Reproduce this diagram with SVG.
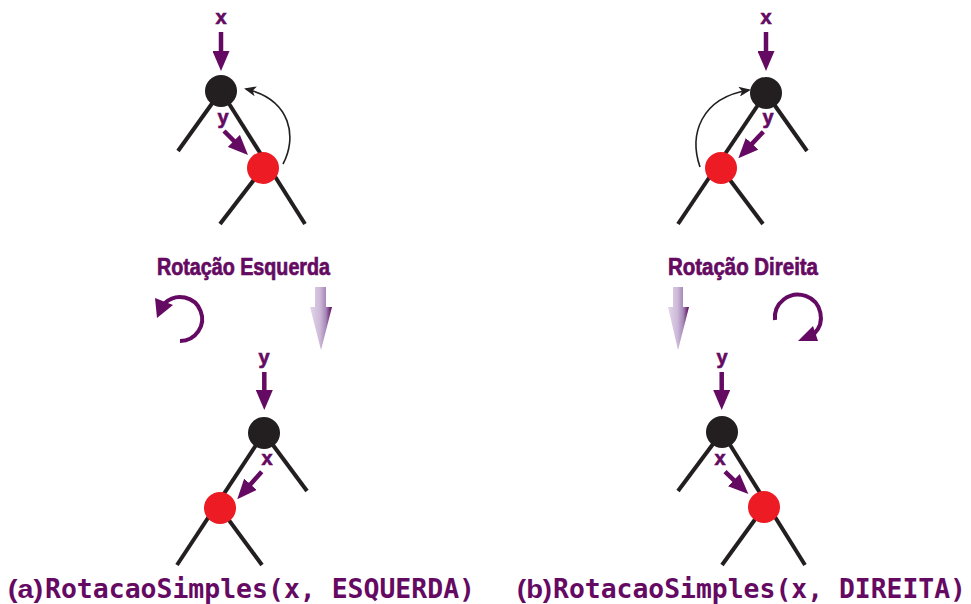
<svg xmlns="http://www.w3.org/2000/svg" width="971" height="604" viewBox="0 0 971 604">
  <style>
    .edge { stroke: #231f20; stroke-width: 4; fill: none; }
    .black { fill: #231f20; }
    .red { fill: #ed1c24; }
    .ptr { stroke: #650a62; stroke-width: 4.5; fill: none; marker-end: url(#ptrHead); }
    .turn { stroke: #231f20; stroke-width: 1.6; fill: none; marker-end: url(#turnHead); }
    .lbl { font-family: "Liberation Sans", Arial, sans-serif; font-weight: bold; font-size: 20px; fill: #650a62; stroke: #650a62; stroke-width: 0.6; text-anchor: middle; }
    .title { font-family: "Liberation Sans Narrow", "Liberation Sans", Arial, sans-serif; font-weight: bold; font-size: 23px; fill: #650a62; stroke: #650a62; stroke-width: 0.7; }
    .tag { font-family: "Liberation Sans", Arial, sans-serif; font-weight: bold; font-size: 25px; fill: #650a62; }
    .code { font-family: "DejaVu Sans Mono", "Liberation Mono", monospace; font-weight: bold; font-size: 26.5px; fill: #650a62; }
    .spin { stroke: #650a62; stroke-width: 4; fill: none; }
    .spinHead { fill: #650a62; }
  </style>
  <defs>
    <marker id="ptrHead" markerUnits="userSpaceOnUse" viewBox="0 0 20 17" markerWidth="20" markerHeight="17" refX="5" refY="8.5" orient="auto">
      <path d="M0,0 L20,8.5 L0,17 Z" fill="#650a62"/>
    </marker>
    <marker id="turnHead" markerUnits="userSpaceOnUse" viewBox="0 0 12 10" markerWidth="12" markerHeight="10" refX="10" refY="5" orient="auto">
      <path d="M0,0 L12,5 L0,10 L3,5 Z" fill="#231f20"/>
    </marker>
    <linearGradient id="fade" x1="0" y1="0" x2="1" y2="0">
      <stop offset="0" stop-color="#e2d6ea"/>
      <stop offset="0.45" stop-color="#cdb9d8"/>
      <stop offset="0.72" stop-color="#a688b8"/>
      <stop offset="1" stop-color="#560556"/>
    </linearGradient>
  </defs>

  <!-- tree (a): before left rotation -->
  <g id="treeA-top">
    <line class="edge" x1="221" y1="91" x2="178" y2="151"/>
    <line class="edge" x1="221" y1="91" x2="305" y2="224"/>
    <line class="edge" x1="263" y1="168" x2="220" y2="224"/>
    <circle id="a-top-x" class="black" cx="221" cy="91" r="16"/>
    <circle id="a-top-y" class="red" cx="263" cy="168" r="16"/>
    <text class="lbl" x="221" y="24">x</text>
    <text class="lbl" x="223" y="124">y</text>
  </g>

  <!-- tree (b): before right rotation -->
  <g id="treeB-top">
    <line class="edge" x1="766" y1="93" x2="678" y2="224"/>
    <line class="edge" x1="766" y1="93" x2="807" y2="151"/>
    <line class="edge" x1="721" y1="168" x2="763" y2="224"/>
    <circle id="b-top-x" class="black" cx="766" cy="93" r="16"/>
    <circle id="b-top-y" class="red" cx="721" cy="168" r="16"/>
    <text class="lbl" x="766" y="24">x</text>
    <text class="lbl" x="768" y="124">y</text>
  </g>

  <!-- tree (a): after left rotation -->
  <g id="treeA-bottom">
    <line class="edge" x1="264" y1="433" x2="177" y2="565"/>
    <line class="edge" x1="264" y1="433" x2="307" y2="491"/>
    <line class="edge" x1="220" y1="508" x2="262" y2="565"/>
    <circle id="a-bot-y" class="black" cx="264" cy="433" r="16"/>
    <circle id="a-bot-x" class="red" cx="220" cy="508" r="16"/>
    <text class="lbl" x="264" y="364">y</text>
    <text class="lbl" x="267" y="465">x</text>
  </g>

  <!-- tree (b): after right rotation -->
  <g id="treeB-bottom">
    <line class="edge" x1="722" y1="432" x2="678" y2="491"/>
    <line class="edge" x1="722" y1="432" x2="805" y2="565"/>
    <line class="edge" x1="764" y1="507" x2="722" y2="565"/>
    <circle id="b-bot-y" class="black" cx="722" cy="432" r="16"/>
    <circle id="b-bot-x" class="red" cx="764" cy="507" r="16"/>
    <text class="lbl" x="722" y="364">y</text>
    <text class="lbl" x="720" y="465">x</text>
  </g>

  <!-- pointer arrows and rotation curves -->
  <g id="connectors">
    <line class="ptr" x1="221" y1="32" x2="221" y2="56"/>
    <line class="ptr" x1="224" y1="131" x2="237.4" y2="144.4"/>
    <line class="ptr" x1="766" y1="32" x2="766" y2="56"/>
    <line class="ptr" x1="763.3" y1="131.7" x2="748.6" y2="147.4"/>
    <line class="ptr" x1="264.3" y1="372" x2="264.3" y2="395"/>
    <line class="ptr" x1="261.7" y1="471.7" x2="247.2" y2="488"/>
    <line class="ptr" x1="721.7" y1="372" x2="721.7" y2="395"/>
    <line class="ptr" x1="725" y1="471.7" x2="737.5" y2="483.6"/>
    <path class="turn" d="M283,164 C297,138 292,100 246,89"/>
    <path class="turn" d="M700,167 C689,135 700,98 749,90"/>
  </g>

  <!-- section titles -->
  <g id="titleLeft">
    <text class="title" x="157" y="275" textLength="173" lengthAdjust="spacingAndGlyphs">Rotação Esquerda</text>
  </g>
  <g id="titleRight">
    <text class="title" x="668" y="275" textLength="150" lengthAdjust="spacingAndGlyphs">Rotação Direita</text>
  </g>

  <!-- rotation direction icons -->
  <g id="spinLeft">
    <path class="spin" d="M180,341 A22,22 0 1,0 165,303"/>
    <polygon class="spinHead" points="155,298 173,305 157,318"/>
  </g>
  <g id="spinRight">
    <path class="spin" d="M775,320 A23,23 0 1,1 814,334"/>
    <polygon class="spinHead" points="798,341 813,326 818,341"/>
  </g>

  <!-- transition arrows -->
  <g id="stepLeft">
    <polygon fill="url(#fade)" points="315,287 326,287 326,307 332,307 321,350 310,307 315,307"/>
  </g>
  <g id="stepRight">
    <polygon fill="url(#fade)" points="673,287 683,287 683,307 689,307 678,350 668,307 673,307"/>
  </g>

  <!-- captions -->
  <g id="captionA">
    <text class="tag" x="8" y="598" textLength="35" lengthAdjust="spacingAndGlyphs">(a)</text>
    <text class="code" x="45" y="598" textLength="430" lengthAdjust="spacingAndGlyphs">RotacaoSimples(x, ESQUERDA)</text>
  </g>
  <g id="captionB">
    <text class="tag" x="517" y="598" textLength="35" lengthAdjust="spacingAndGlyphs">(b)</text>
    <text class="code" x="553" y="598" textLength="413" lengthAdjust="spacingAndGlyphs">RotacaoSimples(x, DIREITA)</text>
  </g>
</svg>
